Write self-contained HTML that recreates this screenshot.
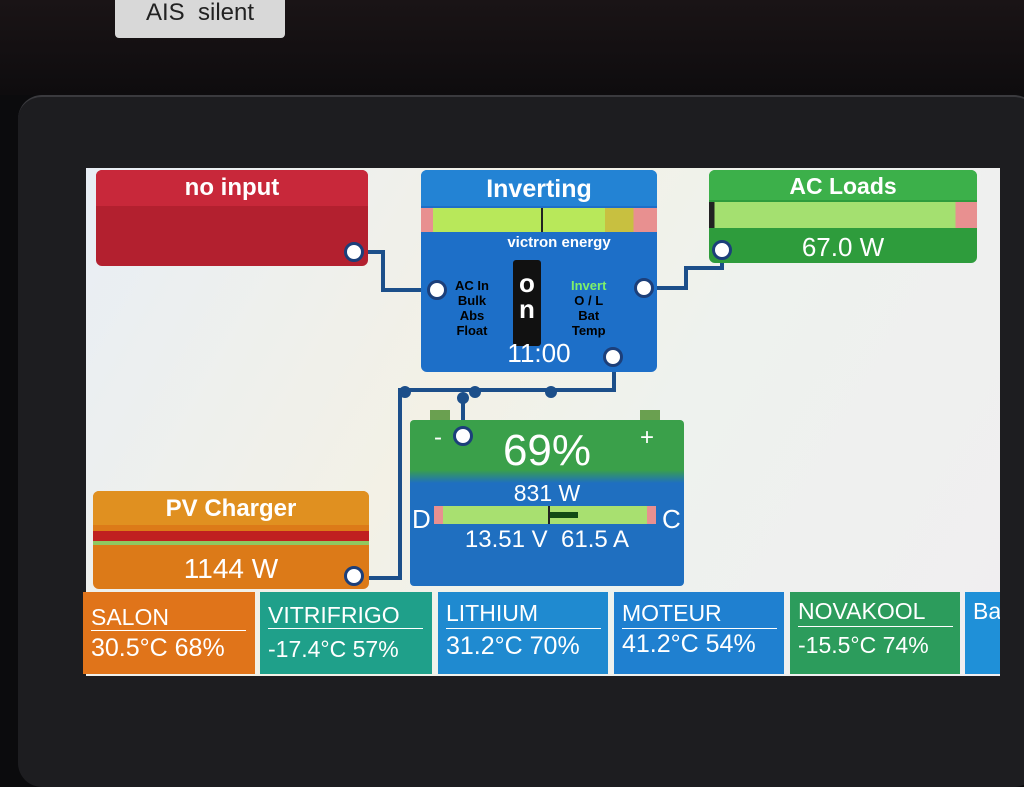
<!DOCTYPE html>
<html><head><meta charset="utf-8"><style>
body{margin:0;width:1024px;height:768px;overflow:hidden;background:#0b0b0d;font-family:"Liberation Sans","DejaVu Sans",sans-serif;position:relative}
.a{position:absolute}
.t{color:#fff;text-align:center;position:absolute;left:0;right:0}
.node{position:absolute;width:14px;height:14px;border-radius:50%;background:#fff;border:3px solid #1c3f7a}
.tile{position:absolute;top:592px;height:82px;color:#fff;font-size:23px}
.tile div{position:absolute;left:8px}
.tile .v{font-size:25px}
</style></head><body>
<div class="a" style="left:0;top:0;width:1024px;height:95px;background:linear-gradient(#1a1416,#0e0c0e)"></div>
<div class="a" style="left:115px;top:0;width:170px;height:38px;background:#d8d8d8;border-radius:0 0 4px 4px;font-size:24px;color:#222;text-align:center;line-height:26px">AIS&nbsp; silent</div>
<div class="a" style="left:18px;top:95px;width:1020px;height:690px;background:#1d1d20;border-radius:24px;border-top:2px solid #3a3a3e"></div>
<div class="a" style="left:86px;top:168px;width:914px;height:508px;background:linear-gradient(120deg,#e8eef5,#f3f1e6 40%,#eef2ee 60%,#f0eef0)"></div>

<svg class="a" style="left:0;top:0" width="1024" height="768">
<g stroke="#1c4f8a" stroke-width="4" fill="none">
<polyline points="355,252 383,252 383,290 437,290"/>
<polyline points="645,288 686,288 686,268 722,268 722,250"/>
<polyline points="614,357 614,390 400,390 400,578 357,578"/>
<polyline points="463,395 463,436"/>
</g>
<g fill="#1c4f8a"><circle cx="405" cy="392" r="6"/><circle cx="475" cy="392" r="6"/><circle cx="551" cy="392" r="6"/><circle cx="463" cy="398" r="6"/></g>
</svg>

<div class="a" style="left:96px;top:170px;width:272px;height:96px;background:#b3202f;border-radius:6px">
<div class="a" style="left:0;top:0;width:272px;height:36px;background:#c8283a;border-radius:6px 6px 0 0"></div>
<div class="t" style="top:4px;font-size:24px;font-weight:bold">no input</div></div>

<div class="a" style="left:421px;top:170px;width:236px;height:202px;background:#1d6fc8;border-radius:6px;overflow:hidden">
<div class="a" style="left:0;top:0;width:236px;height:36px;background:#2383d4"></div>
<div class="t" style="top:5px;font-size:25px;font-weight:bold">Inverting</div>
<div class="a" style="left:0;top:38px;width:236px;height:24px;background:linear-gradient(90deg,#e89090 0 5%,#b8e85a 5% 78%,#c8c040 78% 90%,#e89090 90%)"></div>
<div class="a" style="left:120px;top:38px;width:2px;height:24px;background:#222"></div>
<div class="t" style="top:64px;font-size:15px;font-weight:bold;padding-left:40px">victron energy</div>
<div class="a" style="left:92px;top:90px;width:28px;height:76px;background:#111;border-radius:3px;color:#fff;font-size:26px;font-weight:bold;text-align:center;line-height:26px;padding-top:10px">o<br>n</div>
<div class="a" style="left:34px;top:108px;color:#000;font-size:13px;font-weight:bold;text-align:center;line-height:15px">AC In<br>Bulk<br>Abs<br>Float</div>
<div class="a" style="left:150px;top:108px;color:#000;font-size:13px;font-weight:bold;text-align:center;line-height:15px"><span style="color:#7ef06a">Invert</span><br>O / L<br>Bat<br>Temp</div>
<div class="t" style="top:168px;font-size:26px">11:00</div></div>

<div class="a" style="left:709px;top:170px;width:268px;height:93px;background:#2e9c3c;border-radius:6px;overflow:hidden">
<div class="a" style="left:0;top:0;width:268px;height:30px;background:#3cb04a"></div>
<div class="t" style="top:3px;font-size:23px;font-weight:bold">AC Loads</div>
<div class="a" style="left:0;top:32px;width:268px;height:26px;background:linear-gradient(90deg,#222 0 2%,#a4e070 2% 92%,#e89090 92%)"></div>
<div class="t" style="top:62px;font-size:26px">67.0 W</div></div>

<div class="a" style="left:430px;top:410px;width:20px;height:12px;background:#6aa050"></div>
<div class="a" style="left:640px;top:410px;width:20px;height:12px;background:#6aa050"></div>
<div class="a" style="left:410px;top:420px;width:274px;height:166px;background:linear-gradient(#3aa04a 0 30%,#1f6fc0 38%);border-radius:4px">
<div class="a" style="left:24px;top:4px;color:#fff;font-size:24px">-</div>
<div class="a" style="left:230px;top:4px;color:#fff;font-size:24px">+</div>
<div class="t" style="top:6px;font-size:44px">69%</div>
<div class="t" style="top:60px;font-size:23px">831 W</div>
<div class="a" style="left:2px;top:84px;color:#fff;font-size:26px">D</div>
<div class="a" style="left:252px;top:84px;color:#fff;font-size:26px">C</div>
<div class="a" style="left:24px;top:86px;width:222px;height:18px;background:linear-gradient(90deg,#e89090 0 4%,#a8e070 4% 96%,#e89090 96%)"></div>
<div class="a" style="left:138px;top:92px;width:30px;height:6px;background:#114a14"></div>
<div class="a" style="left:138px;top:86px;width:2px;height:18px;background:#222"></div>
<div class="t" style="top:106px;font-size:24px">13.51 V&nbsp; 61.5 A</div></div>

<div class="a" style="left:93px;top:491px;width:276px;height:98px;background:#dc7a18;border-radius:6px;overflow:hidden">
<div class="a" style="left:0;top:0;width:276px;height:34px;background:#e09020"></div>
<div class="t" style="top:4px;font-size:24px;font-weight:bold">PV Charger</div>
<div class="a" style="left:0;top:40px;width:276px;height:10px;background:#c02020"></div>
<div class="a" style="left:0;top:50px;width:276px;height:4px;background:#90c860"></div>
<div class="t" style="top:62px;font-size:28px">1144 W</div></div>

<div class="node" style="left:344px;top:242px"></div>
<div class="node" style="left:427px;top:280px"></div>
<div class="node" style="left:634px;top:278px"></div>
<div class="node" style="left:712px;top:240px"></div>
<div class="node" style="left:603px;top:347px"></div>
<div class="node" style="left:453px;top:426px"></div>
<div class="node" style="left:344px;top:566px"></div>

<div class="tile" style="left:83px;width:172px;background:#e0741a"><div style="top:12px">SALON</div><div style="top:38px;width:155px;border-top:1px solid #fff"></div><div class="v" style="top:42px">30.5°C 68%</div></div>
<div class="tile" style="left:260px;width:172px;background:#1fa08a"><div style="top:10px">VITRIFRIGO</div><div style="top:36px;width:155px;border-top:1px solid #fff"></div><div class="v" style="top:44px;font-size:23px">-17.4°C 57%</div></div>
<div class="tile" style="left:438px;width:170px;background:#1f8ad0"><div style="top:8px">LITHIUM</div><div style="top:36px;width:155px;border-top:1px solid #fff"></div><div class="v" style="top:40px">31.2°C 70%</div></div>
<div class="tile" style="left:614px;width:170px;background:#1f80d0"><div style="top:8px">MOTEUR</div><div style="top:36px;width:155px;border-top:1px solid #fff"></div><div class="v" style="top:38px">41.2°C 54%</div></div>
<div class="tile" style="left:790px;width:170px;background:#2c9c5c"><div style="top:6px">NOVAKOOL</div><div style="top:34px;width:155px;border-top:1px solid #fff"></div><div class="v" style="top:40px;font-size:23px">-15.5°C 74%</div></div>
<div class="tile" style="left:965px;width:35px;background:#1f90d8;overflow:hidden"><div style="top:6px">Ba</div></div>
</body></html>
